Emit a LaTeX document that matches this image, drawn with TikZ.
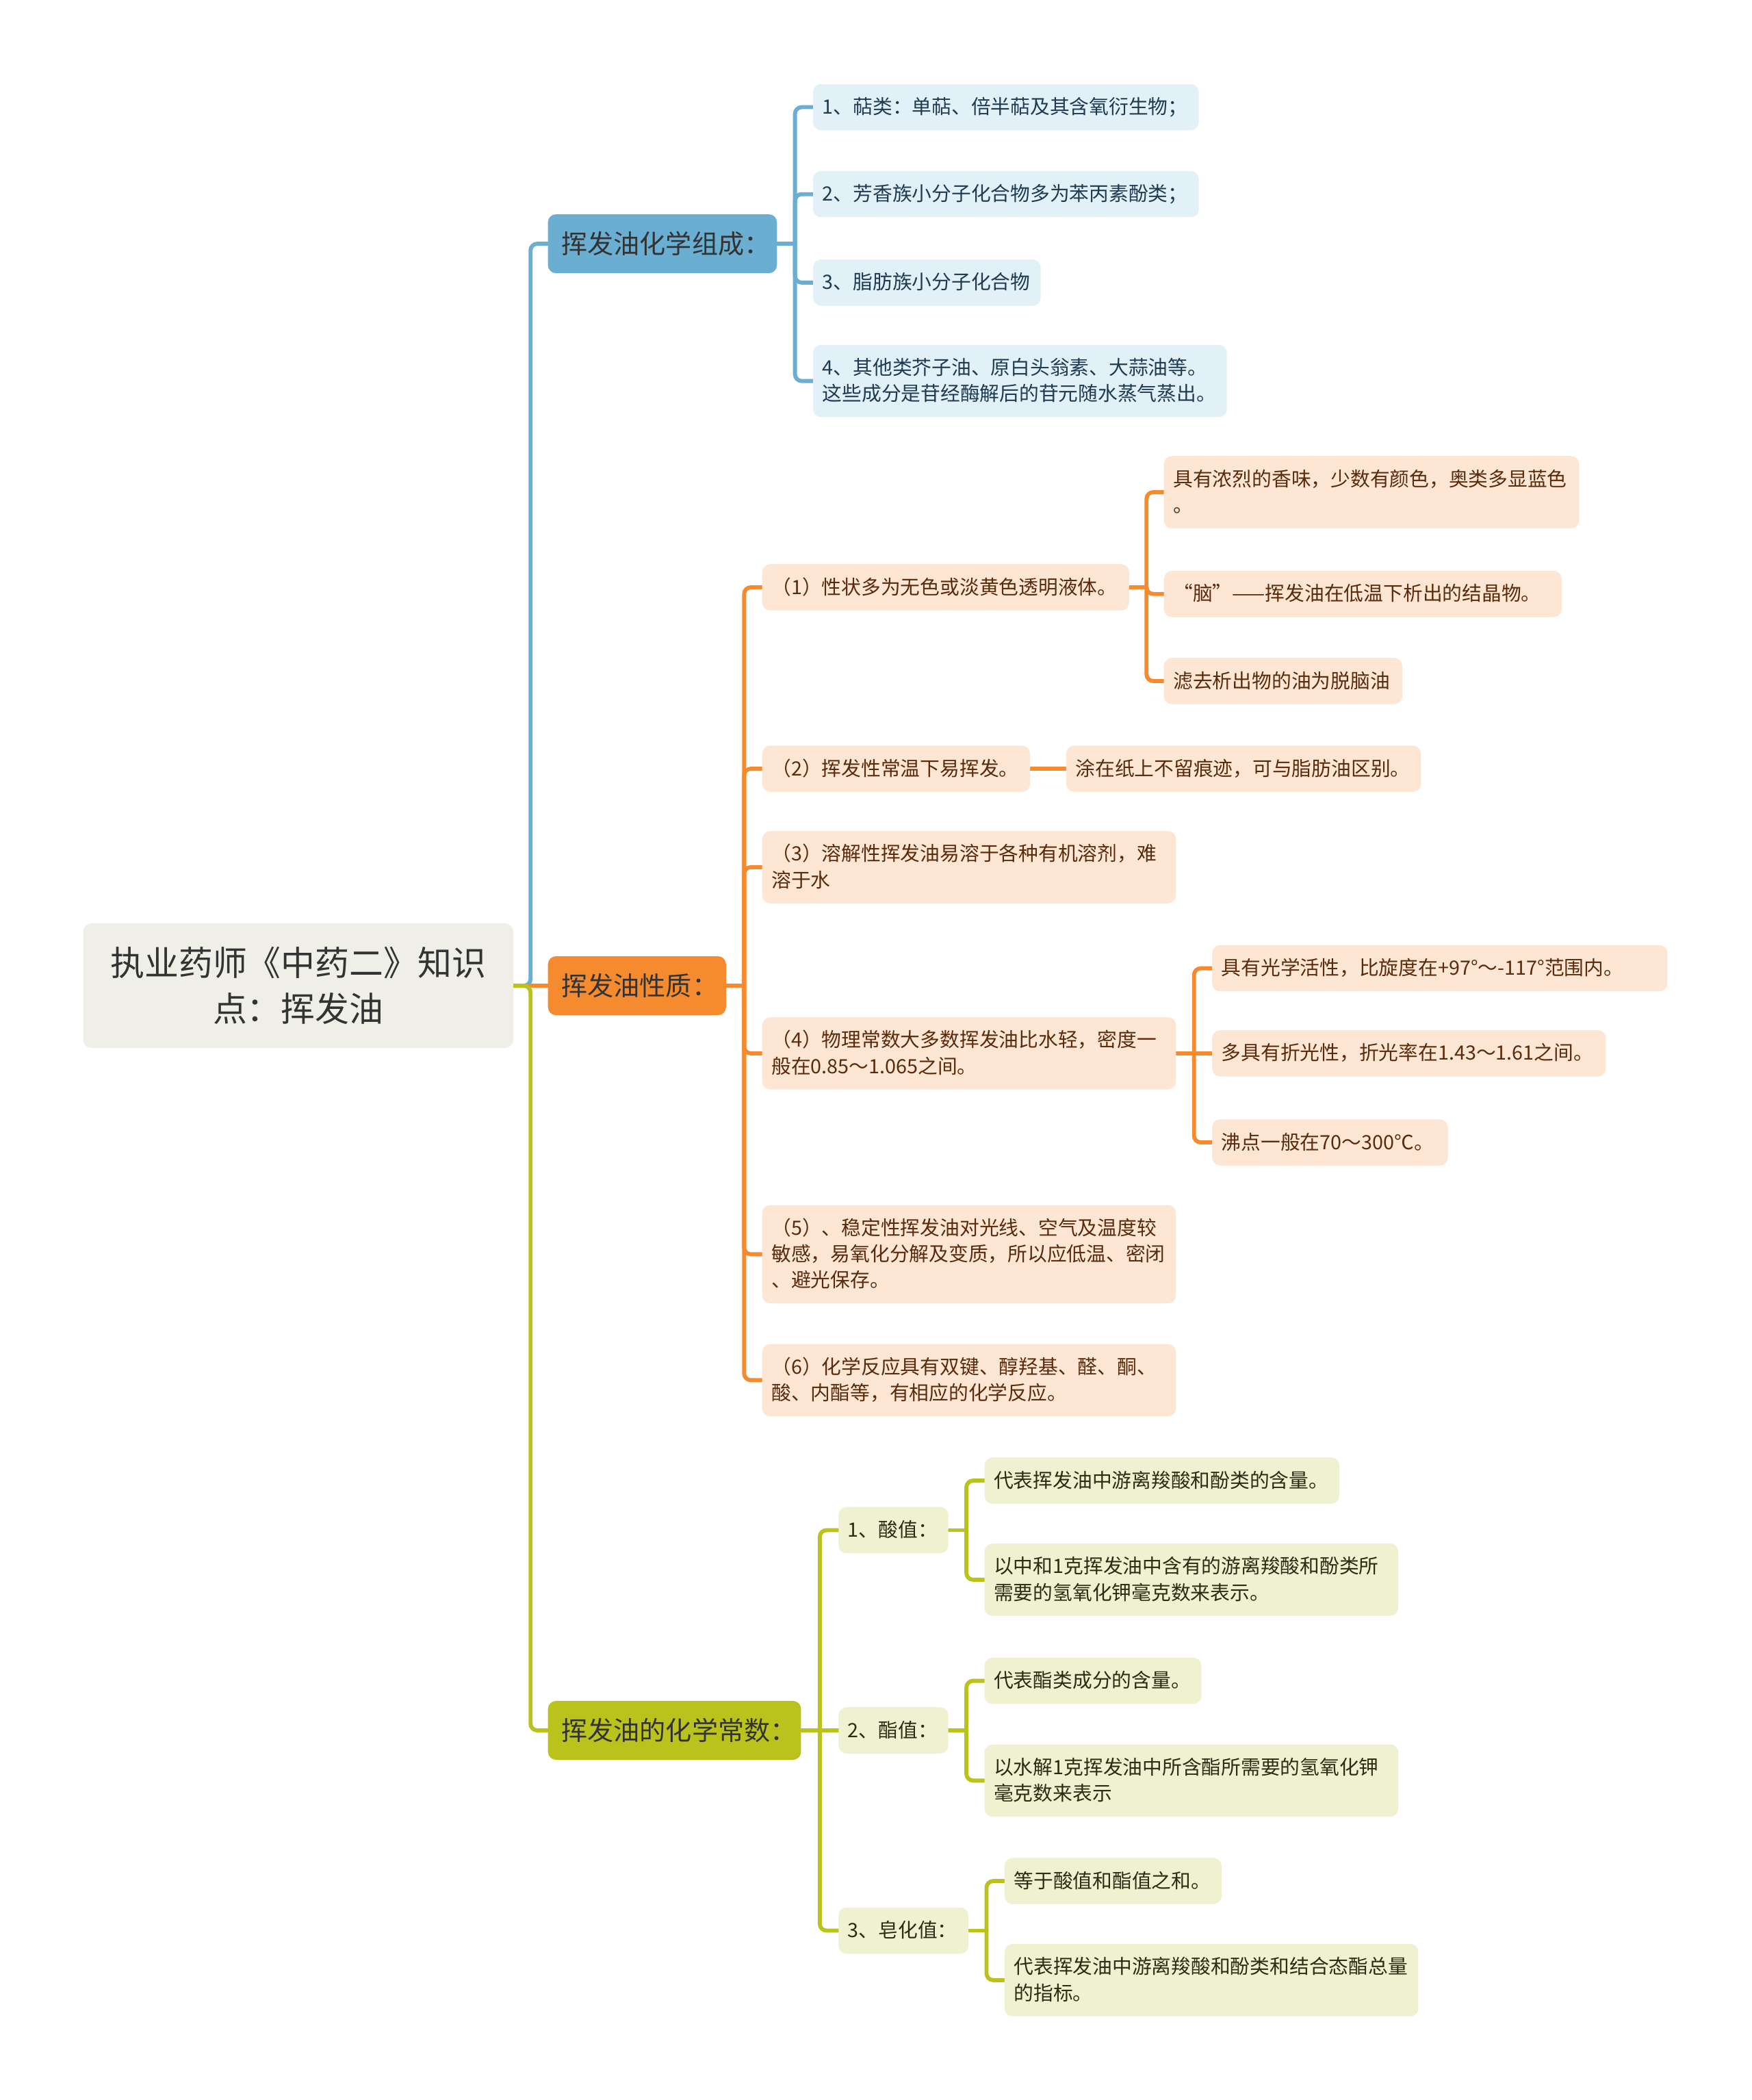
\documentclass[tikz,border=0pt]{standalone}
\usepackage{fontspec}
\setmainfont{Noto Sans CJK SC}
\usetikzlibrary{calc,backgrounds}
\definecolor{TopicGray}{HTML}{EFEFE7}
\definecolor{MapBlue}{HTML}{6AAED2}
\definecolor{MapOrange}{HTML}{F58A2E}
\definecolor{MapOlive}{HTML}{B9C31B}
\definecolor{SoftBlue}{HTML}{E2F0F8}
\definecolor{SoftOrange}{HTML}{FDE6D4}
\definecolor{SoftOlive}{HTML}{EFF1D1}
\definecolor{InkBlue}{HTML}{1E3B52}
\definecolor{InkBrown}{HTML}{5A2B0A}
\definecolor{InkOlive}{HTML}{2C2C14}
\definecolor{InkDark}{HTML}{333333}
\newcommand\leafstrut{\rule[-4.6pt]{0pt}{19.5pt}}
\newcommand\topicstrut{\rule[-7.4pt]{0pt}{34pt}}
\tikzset{
  topic/.style={anchor=west, fill=TopicGray, text=InkDark, rounded corners=6pt,
    text width=305pt, align=center, inner xsep=8pt, inner ysep=12.5pt,
    font=\fontsize{25.5}{34}\selectfont, execute at begin node=\topicstrut, execute at end node=\topicstrut},
  branch/.style={anchor=west, rounded corners=6pt, minimum height=44pt, inner xsep=10pt,
    align=left, text width=#1, text=InkDark, font=\fontsize{19.5}{22}\selectfont},
  leaf/.style={anchor=west, rounded corners=6pt, inner xsep=7pt, inner ysep=7.5pt,
    align=left, text width=#1, font=\fontsize{14.7}{19.5}\selectfont,
    execute at begin node=\leafstrut, execute at end node=\leafstrut},
  leafB/.style={leaf=#1, fill=SoftBlue, text=InkBlue},
  leafO/.style={leaf=#1, fill=SoftOrange, text=InkBrown},
  leafG/.style={leaf=#1, fill=SoftOlive, text=InkOlive},
  link/.style={line width=3pt, rounded corners=5pt, line cap=round},
}

\begin{document}
\begin{tikzpicture}[x=1pt,y=-1pt]
\useasboundingbox (0,0) rectangle (1308,1568);

\node[topic] (root) at (62,736) {执业药师《中药二》知识\\点：挥发油};

\node[branch=151pt, fill=MapBlue] (b1) at (409,182) {挥发油化学组成：};
\node[branch=113pt, fill=MapOrange] (b2) at (409,736) {挥发油性质：};
\node[branch=169pt, fill=MapOlive] (b3) at (409,1292) {挥发油的化学常数：};

\node[leafB=274pt] (c1) at (607,80) {1、萜类：单萜、倍半萜及其含氧衍生物；};
\node[leafB=274pt] (c2) at (607,145) {2、芳香族小分子化合物多为苯丙素酚类；};
\node[leafB=156pt] (c3) at (607,211) {3、脂肪族小分子化合物};
\node[leafB=295pt] (c4) at (607,284.5) {4、其他类芥子油、原白头翁素、大蒜油等。\\这些成分是苷经酶解后的苷元随水蒸气蒸出。};

\node[leafO=260pt] (p1) at (569,438.5) {（1）性状多为无色或淡黄色透明液体。};
\node[leafO=296pt] (p1a) at (869,367.5) {具有浓烈的香味，少数有颜色，奥类多显蓝色\\。};
\node[leafO=283pt] (p1b) at (869,443.5) {“脑”——挥发油在低温下析出的结晶物。};
\node[leafO=164pt] (p1c) at (869,508.5) {滤去析出物的油为脱脑油};
\node[leafO=186pt] (p2) at (569,574) {（2）挥发性常温下易挥发。};
\node[leafO=251pt] (p2a) at (796,574) {涂在纸上不留痕迹，可与脂肪油区别。};
\node[leafO=295pt] (p3) at (569,647.5) {（3）溶解性挥发油易溶于各种有机溶剂，难\\溶于水};
\node[leafO=295pt] (p4) at (569,786.5) {（4）物理常数大多数挥发油比水轻，密度一\\般在0.85～1.065之间。};
\node[leafO=326pt] (p4a) at (905,723) {具有光学活性，比旋度在+97°～-117°范围内。};
\node[leafO=280pt] (p4b) at (905,786.5) {多具有折光性，折光率在1.43～1.61之间。};
\node[leafO=162pt] (p4c) at (905,853) {沸点一般在70～300℃。};
\node[leafO=295pt] (p5) at (569,936.5) {（5）、稳定性挥发油对光线、空气及温度较\\敏感，易氧化分解及变质，所以应低温、密闭\\、避光保存。};
\node[leafO=295pt] (p6) at (569,1030.5) {（6）化学反应具有双键、醇羟基、醛、酮、\\酸、内酯等，有相应的化学反应。};

\node[leafG=68pt] (s1) at (626,1142.5) {1、酸值：};
\node[leafG=251pt] (s1a) at (735,1105.5) {代表挥发油中游离羧酸和酚类的含量。};
\node[leafG=295pt] (s1b) at (735,1179.5) {以中和1克挥发油中含有的游离羧酸和酚类所\\需要的氢氧化钾毫克数来表示。};
\node[leafG=68pt] (s2) at (626,1292) {2、酯值：};
\node[leafG=148pt] (s2a) at (735,1255) {代表酯类成分的含量。};
\node[leafG=295pt] (s2b) at (735,1329.5) {以水解1克挥发油中所含酯所需要的氢氧化钾\\毫克数来表示};
\node[leafG=83pt] (s3) at (626,1441.5) {3、皂化值：};
\node[leafG=148pt] (s3a) at (750,1404.5) {等于酸值和酯值之和。};
\node[leafG=295pt] (s3b) at (750,1478.5) {代表挥发油中游离羧酸和酚类和结合态酯总量\\的指标。};

\coordinate (j0) at ($(root.east)!.5!(b1.west |- root.east)$);
\coordinate (jB) at ($(b1.east)!.5!(c1.west |- b1.east)$);
\coordinate (jO) at ($(b2.east)!.5!(p1.west |- b2.east)$);
\coordinate (jG) at ($(b3.east)!.5!(s1.west |- b3.east)$);
\coordinate (jP1) at ($(p1.east)!.5!(p1a.west |- p1.east)$);
\coordinate (jP4) at ($(p4.east)!.5!(p4a.west |- p4.east)$);
\coordinate (jS1) at ($(s1.east)!.5!(s1a.west |- s1.east)$);
\coordinate (jS2) at ($(s2.east)!.5!(s2a.west |- s2.east)$);
\coordinate (jS3) at ($(s3.east)!.5!(s3a.west |- s3.east)$);

\begin{scope}[on background layer]
\fill[white] (0,0) rectangle (1308,1568);
\draw[link, MapBlue] (root.east) -- (j0) |- (b1.west);
\draw[link, MapOrange] (root.east) -- (b2.west);
\draw[link, MapOlive] (root.east) -- (j0) |- (b3.west);

\draw[link, MapBlue] (b1.east) -- (jB);
\foreach \c in {c1,c2,c3,c4}
  \draw[link, MapBlue] (jB) |- (\c.west);

\draw[link, MapOrange] (b2.east) -- (jO);
\foreach \c in {p1,p2,p3,p4,p5,p6}
  \draw[link, MapOrange] (jO) |- (\c.west);
\draw[link, MapOrange] (p1.east) -- (jP1);
\foreach \c in {p1a,p1b,p1c}
  \draw[link, MapOrange] (jP1) |- (\c.west);
\draw[link, MapOrange] (p2.east) -- (p2a.west);
\draw[link, MapOrange] (p4.east) -- (p4b.west);
\foreach \c in {p4a,p4c}
  \draw[link, MapOrange] (jP4) |- (\c.west);

\draw[link, MapOlive] (b3.east) -- (s2.west);
\foreach \c in {s1,s3}
  \draw[link, MapOlive] (jG) |- (\c.west);
\draw[link, MapOlive] (s1.east) -- (jS1);
\draw[link, MapOlive] (s2.east) -- (jS2);
\draw[link, MapOlive] (s3.east) -- (jS3);
\foreach \c/\j in {s1a/jS1,s1b/jS1,s2a/jS2,s2b/jS2,s3a/jS3,s3b/jS3}
  \draw[link, MapOlive] (\j) |- (\c.west);
\end{scope}
\end{tikzpicture}
\end{document}
